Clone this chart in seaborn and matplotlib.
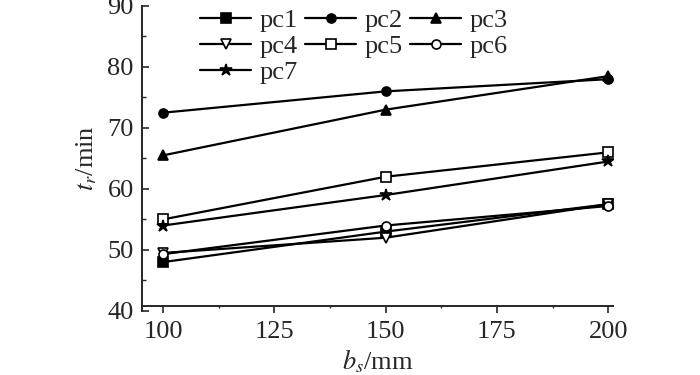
import matplotlib
matplotlib.use("Agg")
import matplotlib.pyplot as plt
import seaborn as sns
import numpy as np
from matplotlib.ticker import MultipleLocator

x_vals = [100, 150, 200]
pc1 = [48.0, 53.0, 57.5]
pc2 = [72.5, 76.0, 78.0]
pc3 = [65.5, 73.0, 78.5]
pc4 = [49.5, 52.0, 57.5]
pc5 = [55.0, 62.0, 66.0]
pc6 = [49.3, 54.0, 57.2]
pc7 = [54.0, 59.0, 64.5]
labels = ["pc1", "pc2", "pc3", "pc4", "pc5", "pc6", "pc7"]
series = [pc1, pc2, pc3, pc4, pc5, pc6, pc7]
markers = ["s", "o", "^", "v", "s", "o", "*"]
filled = [True, True, True, False, False, False, True]

sns.set_style("ticks")
plt.rcParams["font.family"] = ["Liberation Serif", "DejaVu Serif"]
plt.rcParams["mathtext.fontset"] = "stix"

fig = plt.figure(figsize=(7.0, 3.75), dpi=100)
ax = fig.add_axes([0.203, 0.171, 0.673, 0.813])

for lab, ys, m, f in zip(labels, series, markers, filled):
    ms = 9 if m == "*" else 6.5
    sns.lineplot(x=x_vals, y=ys, ax=ax, color="black", marker=m,
                 markersize=ms, markerfacecolor="black" if f else "white",
                 markeredgecolor="black", markeredgewidth=1.2,
                 linewidth=1.6, label=lab)

ax.set_xlim(95.3, 201.1)
ax.set_ylim(40, 90)
ax.set_xticks([100, 125, 150, 175, 200])
ax.xaxis.set_minor_locator(MultipleLocator(12.5))
ax.set_yticks([40, 50, 60, 70, 80, 90])
ax.yaxis.set_minor_locator(MultipleLocator(5))

for s in ["top", "right"]:
    ax.spines[s].set_visible(False)
ax.spines["left"].set_linewidth(1.4)
ax.spines["bottom"].set_linewidth(1.4)
ax.spines["bottom"].set_position(("data", 40.8))

ax.tick_params(axis="y", which="major", direction="in", length=5, width=1.2,
               labelsize=19, pad=6)
ax.tick_params(axis="y", which="minor", direction="in", length=3, width=1.0)
ax.tick_params(axis="x", which="major", direction="out", length=5, width=1.2,
               labelsize=19, pad=6)
ax.tick_params(axis="x", which="minor", direction="out", length=1.5, width=1.0)

ax.set_xlabel(r"$b_s$/mm", fontsize=19, labelpad=3)
ax.set_ylabel(r"$t_r$/min", fontsize=19, labelpad=6)

handles, labs = ax.get_legend_handles_labels()
order = [0, 3, 6, 1, 4, 2, 5]
ax.legend([handles[i] for i in order], [labs[i] for i in order],
          loc="upper left", bbox_to_anchor=(0.118, 1.0), ncol=3, frameon=False,
          fontsize=19, handlelength=1.93, handletextpad=0.3, columnspacing=0.3,
          labelspacing=0.1, borderaxespad=0, borderpad=0.1)

fig.savefig("out.png", dpi=100)
